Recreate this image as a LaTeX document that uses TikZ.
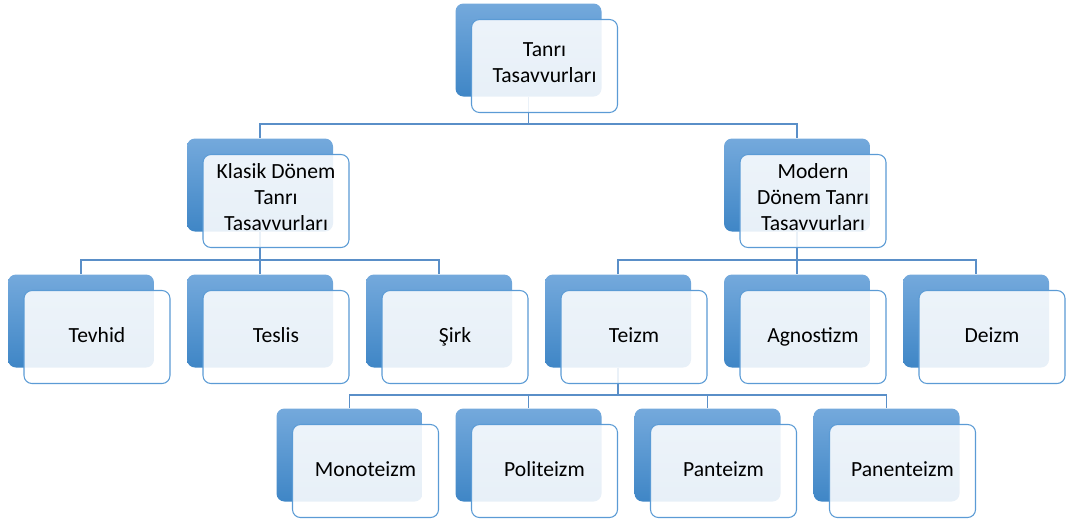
\documentclass[tikz,border=0pt]{standalone}
\usepackage{fontspec}
\setmainfont{Carlito}
\usepackage{tikz}
\usetikzlibrary{positioning, calc}
\definecolor{boxTop}{HTML}{74A9DC}
\definecolor{boxBot}{HTML}{3F86C6}
\definecolor{frameBlue}{HTML}{5B9BD5}
\definecolor{linkBlue}{HTML}{5A8FC8}
\begin{document}
\begin{tikzpicture}[
        x=0.75pt, y=-0.75pt,
        backbox/.style={rectangle, rounded corners=6pt, minimum width=109.5pt, minimum height=69.75pt, top color=boxTop, bottom color=boxBot, draw=none},
        frontbox/.style={rectangle, rounded corners=6pt, minimum width=109.5pt, minimum height=69.75pt, text centered, align=center, draw=frameBlue, line width=0.8pt, fill=white, fill opacity=0.88, text opacity=1, font=\fontsize{16.2}{19.5}\selectfont, execute at begin node=\strut, execute at end node=\strut},
        link/.style={draw=linkBlue, line width=0.8pt}
    ]
        \useasboundingbox (0,0) rectangle (1066,522);

        % ===== arka kutular =====
        \node (tanri) [backbox] at (528.5,50) {};
        \node (klasik) [backbox] at (260,185) {};
        \node (modern) [backbox] at (797,185) {};
        \node (tevhid) [backbox] at (81,321) {};
        \node (teslis) [backbox] at (260,321) {};
        \node (sirk) [backbox] at (439,321) {};
        \node (teizm) [backbox] at (618,321) {};
        \node (agnostizm) [backbox] at (797,321) {};
        \node (deizm) [backbox] at (976,321) {};
        \node (monoteizm) [backbox] at (349.5,455) {};
        \node (politeizm) [backbox] at (528.5,455) {};
        \node (panteizm) [backbox] at (707.5,455) {};
        \node (panenteizm) [backbox] at (886.5,455) {};

        % ===== seviye cizgileri =====
        \coordinate (levelA) at (0,124);
        \coordinate (levelB) at (0,260);
        \coordinate (levelC) at (0,395);

        % ===== baglantilar =====
        \draw [link] (tanri.south) -- (tanri.south |- levelA) -| (klasik.north);
        \draw [link] (tanri.south) -- (tanri.south |- levelA) -| (modern.north);

        \draw [link] (klasik.south) -- (klasik.south |- levelB) -| (tevhid.north);
        \draw [link] (klasik.south) -- (klasik.south |- levelB) -| (teslis.north);
        \draw [link] (klasik.south) -- (klasik.south |- levelB) -| (sirk.north);

        \draw [link] (modern.south) -- (modern.south |- levelB) -| (teizm.north);
        \draw [link] (modern.south) -- (modern.south |- levelB) -| (agnostizm.north);
        \draw [link] (modern.south) -- (modern.south |- levelB) -| (deizm.north);

        \draw [link] (teizm.south) -- (teizm.south |- levelC) -| (monoteizm.north);
        \draw [link] (teizm.south) -- (teizm.south |- levelC) -| (politeizm.north);
        \draw [link] (teizm.south) -- (teizm.south |- levelC) -| (panteizm.north);
        \draw [link] (teizm.south) -- (teizm.south |- levelC) -| (panenteizm.north);

        % ===== on kutular =====
        \node (tanriF) [frontbox] at ($(tanri)+(16,16)$) {Tanrı\\Tasavvurları};
        \node (klasikF) [frontbox] at ($(klasik)+(16,16)$) {Klasik Dönem\\Tanrı\\Tasavvurları};
        \node (modernF) [frontbox] at ($(modern)+(16,16)$) {Modern\\Dönem Tanrı\\Tasavvurları};
        \node (tevhidF) [frontbox] at ($(tevhid)+(16,16)$) {Tevhid};
        \node (teslisF) [frontbox] at ($(teslis)+(16,16)$) {Teslis};
        \node (sirkF) [frontbox] at ($(sirk)+(16,16)$) {Şirk};
        \node (teizmF) [frontbox] at ($(teizm)+(16,16)$) {Teizm};
        \node (agnostizmF) [frontbox] at ($(agnostizm)+(16,16)$) {Agnostizm};
        \node (deizmF) [frontbox] at ($(deizm)+(16,16)$) {Deizm};
        \node (monoteizmF) [frontbox] at ($(monoteizm)+(16,16)$) {Monoteizm};
        \node (politeizmF) [frontbox] at ($(politeizm)+(16,16)$) {Politeizm};
        \node (panteizmF) [frontbox] at ($(panteizm)+(16,16)$) {Panteizm};
        \node (panenteizmF) [frontbox] at ($(panenteizm)+(16,16)$) {Panenteizm};

    \end{tikzpicture}
\end{document}
